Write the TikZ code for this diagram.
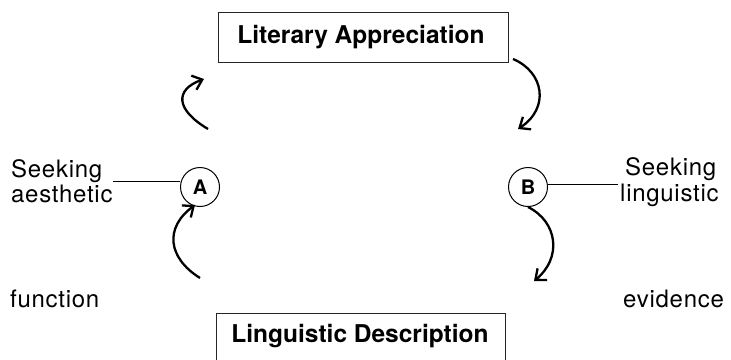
\documentclass[tikz,border=0pt]{standalone}
\usepackage{fontspec}
\setmainfont{TeX Gyre Heros}
\usetikzlibrary{arrows.meta}
\begin{document}
\begin{tikzpicture}[x=1pt,y=1pt,
  box/.style={draw=black!85, line width=0.9pt, inner sep=0pt},
  btxt/.style={font=\fontsize{24.5}{28}\selectfont\bfseries, inner sep=0pt},
  circ/.style={draw, circle, line width=1pt, minimum size=39pt, inner sep=0pt, font=\fontsize{20}{23}\selectfont\bfseries},
  lab/.style={font=\fontsize{24}{27}\selectfont\addfontfeatures{LetterSpace=3}, inner sep=0pt, anchor=base west},
  flow/.style={line width=2.3pt, -{Straight Barb[length=9pt,width=15pt,line width=2.3pt]}},
  tick/.style={line width=0.9pt}]
\useasboundingbox (0,0) rectangle (731,-359);
\clip (0,0) rectangle (731,-359);
% boxes
\node[box, minimum width=290pt, minimum height=50pt] (la) at (363,-37) {};
\node[btxt, anchor=base] (lat) at (361,-43) {Literary Appreciation};
\node[box, minimum width=289pt, minimum height=70pt, anchor=north] (ld) at (360.5,-313) {};
\node[btxt, anchor=base] (ldt) at (360,-342) {Linguistic Description};
% circles
\node[circ] (A) at (200,-187) {A};
\node[circ] (B) at (528,-187) {B};
% side labels
\node[lab] (sk1) at (11,-177) {Seeking};
\node[lab] (ae) at (11,-202) {aesthetic};
\node[lab] (sk2) at (625,-175) {Seeking};
\node[lab] (li) at (620,-201) {linguistic};
\node[lab] (fu) at (10,-307) {function};
\node[lab] (ev) at (623,-307) {evidence};
% ticks
\coordinate (t1) at (113,-181);
\draw[tick] (t1) -- (A.west |- t1);
\coordinate (t2) at (618,-184);
\draw[tick] (B.east |- t2) -- (t2);
% arrows
\coordinate (a1s) at (208,-129); \coordinate (a1e) at (204,-79);
\coordinate (a2s) at (200,-278); \coordinate (a2e) at (195,-205);
\coordinate (a3s) at (513,-59);  \coordinate (a3e) at (518,-129);
\coordinate (a4s) at (528,-207); \coordinate (a4e) at (534,-281);
\draw[flow] (a1s) .. controls (176,-110) and (174,-90) .. (a1e);
\draw[flow] (a2s) .. controls (168,-258) and (164,-228) .. (a2e);
\draw[flow] (a3s) .. controls (544,-72) and (550,-108) .. (a3e);
\draw[flow] (a4s) .. controls (558,-222) and (562,-258) .. (a4e);
\end{tikzpicture}
\end{document}
